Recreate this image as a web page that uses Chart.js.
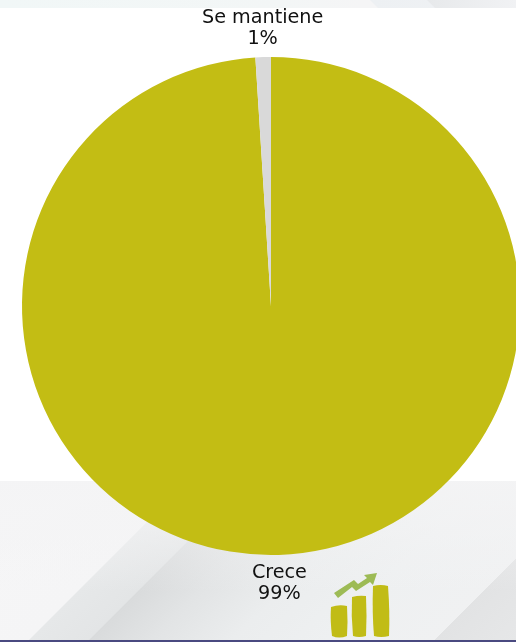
<!DOCTYPE html>
<html><head><meta charset="utf-8">
<script src="https://cdn.jsdelivr.net/npm/chart.js@4"></script>
<style>
html,body{margin:0;padding:0;background:#fff;overflow:hidden;width:516px;height:642px}
#stage{position:relative;width:516px;height:642px;overflow:hidden;background:#fff}
.bg{position:absolute}
#chartBox{position:absolute;left:0;top:0;width:542px;height:612px}
</style></head>
<body>
<div id="stage">
<div class="bg" style="left:0;top:0;width:516px;height:8px;background:linear-gradient(90deg,#f1f7f7,#f3f6f6 55%,#f5f5f6 70%)"></div>
<div class="bg" style="left:370px;top:0;width:146px;height:8px;background:linear-gradient(90deg,#edf0f3,#f0f2f4);clip-path:polygon(0 0,100% 0,100% 100%,8px 100%)"></div>
<div class="bg" style="left:427px;top:0;width:89px;height:8px;background:linear-gradient(90deg,#e7e9eb,#f1f2f4);clip-path:polygon(0 0,100% 0,100% 100%,8px 100%)"></div>
<div class="bg" style="left:0;top:481px;width:516px;height:159px;background:
 linear-gradient(180deg,rgba(244,244,245,.9) 0,rgba(244,244,245,.55) 30%,rgba(244,244,245,0) 70%),
 linear-gradient(135deg,#f6f6f7 0,#f5f5f6 27.8%,#e6e8e9 27.9%,#e3e5e6 36.7%,#d9dbdc 36.8%,#e2e4e5 46%,#ebedee 58%,#eef0f1 72%,#f0f1f2 87.9%,#e2e3e4 88%,#e6e7e8 100%)"></div>
<div class="bg" style="left:0;top:640px;width:516px;height:2px;background:#4a4a80"></div>
<svg class="bg" style="left:320px;top:560px" width="80" height="82" viewBox="0 0 80 82">
<path d="M14 33 L34 20 L38 24 L47 18 L44 15 L57 13 L53 25 L50 22 L36 31 L32 27 L18 38Z" fill="#9dbb55"/>
<path d="M11 47 Q19 44 27 46 Q28 62 27 76 Q19 79 12 76 Q10 60 11 47Z" fill="#c1bc16"/>
<path d="M32 37 Q39 35 46 36 Q47 56 46 76 Q39 78 33 76 Q31 56 32 37Z" fill="#c1bc16"/>
<path d="M53 26 Q61 24 68 26 Q70 52 69 76 Q61 78 54 76 Q52 52 53 26Z" fill="#c1bc16"/>
</svg>
<div id="chartBox"><canvas id="c" width="542" height="612"></canvas></div>
</div>
<script>
const categories = ["Crece", "Se mantiene"];
const seriesValues = [99, 1];
const percentLabels = ["99%", "1%"];
const sliceColors = ["#c3bd14", "#d9d9d9"];

const outerLabels = {
  id: "outerLabels",
  afterDatasetsDraw(chart) {
    const ctx = chart.ctx;
    ctx.save();
    ctx.fillStyle = "#111111";
    ctx.font = "400 19.2px 'DejaVu Sans'";
    ctx.textAlign = "center";
    ctx.textBaseline = "middle";
    chart.getDatasetMeta(0).data.forEach((arc, i) => {
      const mid = (arc.startAngle + arc.endAngle) / 2;
      const r = arc.outerRadius + 18;
      const x = arc.x + Math.cos(mid) * r;
      const y = arc.y + Math.sin(mid) * r;
      const below = Math.sin(mid) > 0;
      ctx.fillText(categories[i], x, below ? y : y - 21);
      ctx.fillText(percentLabels[i], x, below ? y + 21 : y);
    });
    ctx.restore();
  }
};

new Chart(document.getElementById("c"), {
  type: "pie",
  data: {
    labels: categories,
    datasets: [{ data: seriesValues, backgroundColor: sliceColors, borderWidth: 0 }]
  },
  options: {
    responsive: false,
    animation: false,
    layout: { padding: { left: 22, right: 22, top: 57, bottom: 57 } },
    plugins: { legend: { display: false }, tooltip: { enabled: false } }
  },
  plugins: [outerLabels]
});
</script>
</body></html>
